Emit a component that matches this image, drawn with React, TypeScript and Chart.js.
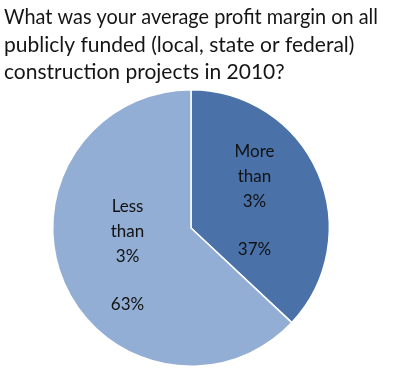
import React, { useEffect, useRef } from "react";
import { Chart, registerables } from "chart.js";

Chart.register(...registerables);

const titleLines = [
  "What was your average profit margin on all",
  "publicly funded (local, state or federal)",
  "construction projects in 2010?",
];
const categories = ["More than 3%", "Less than 3%"];
const values = [37, 63];
const colors = ["#4a72a9", "#93aed5"];

const labelPlugin = {
  id: "sliceLabels",
  afterDatasetsDraw(chart: any) {
    const ctx = chart.ctx;
    const meta = chart.getDatasetMeta(0);
    const total = values.reduce((a, b) => a + b, 0);
    ctx.save();
    ctx.fillStyle = "#111111";
    ctx.textAlign = "center";
    ctx.textBaseline = "middle";
    ctx.font = "17px Lato, 'Open Sans', sans-serif";
    meta.data.forEach((arc: any, i: number) => {
      const { x, y, startAngle, endAngle, outerRadius } = arc.getProps(
        ["x", "y", "startAngle", "endAngle", "outerRadius"],
        true
      );
      const mid = (startAngle + endAngle) / 2;
      const cx = x + Math.cos(mid) * outerRadius * 0.5;
      const cy = y + Math.sin(mid) * outerRadius * 0.5;
      const words = categories[i].split(" ");
      const offs = [-49, -24, 1];
      words.forEach((w, k) => ctx.fillText(w, cx, cy + offs[k]));
      ctx.fillText(Math.round((values[i] / total) * 100) + "%", cx, cy + 49);
    });
    ctx.restore();
  },
};

export default function App() {
  const ref = useRef<HTMLCanvasElement>(null);
  useEffect(() => {
    if (!ref.current) return;
    const chart = new Chart(ref.current, {
      type: "pie",
      data: {
        labels: categories,
        datasets: [
          {
            data: values,
            backgroundColor: colors,
            borderColor: "#ffffff",
            borderWidth: 1.5,
          },
        ],
      },
      options: {
        animation: false,
        responsive: false,
        layout: { padding: { left: 4, right: 22, top: 0, bottom: 9 } },
        plugins: {
          legend: { display: false },
          tooltip: { enabled: false },
          title: {
            display: true,
            text: titleLines,
            align: "start",
            color: "#151515",
            font: { family: "Lato, 'Open Sans', sans-serif", size: 21, weight: "normal", lineHeight: 1.3 },
            padding: { top: 4, bottom: 3 },
          },
        },
      },
      plugins: [labelPlugin],
    });
    return () => chart.destroy();
  }, []);
  return (
    <div style={{ position: "fixed", left: 0, top: 0, width: 400, height: 376, background: "#fff" }}>
      <canvas ref={ref} width={400} height={376} />
    </div>
  );
}
